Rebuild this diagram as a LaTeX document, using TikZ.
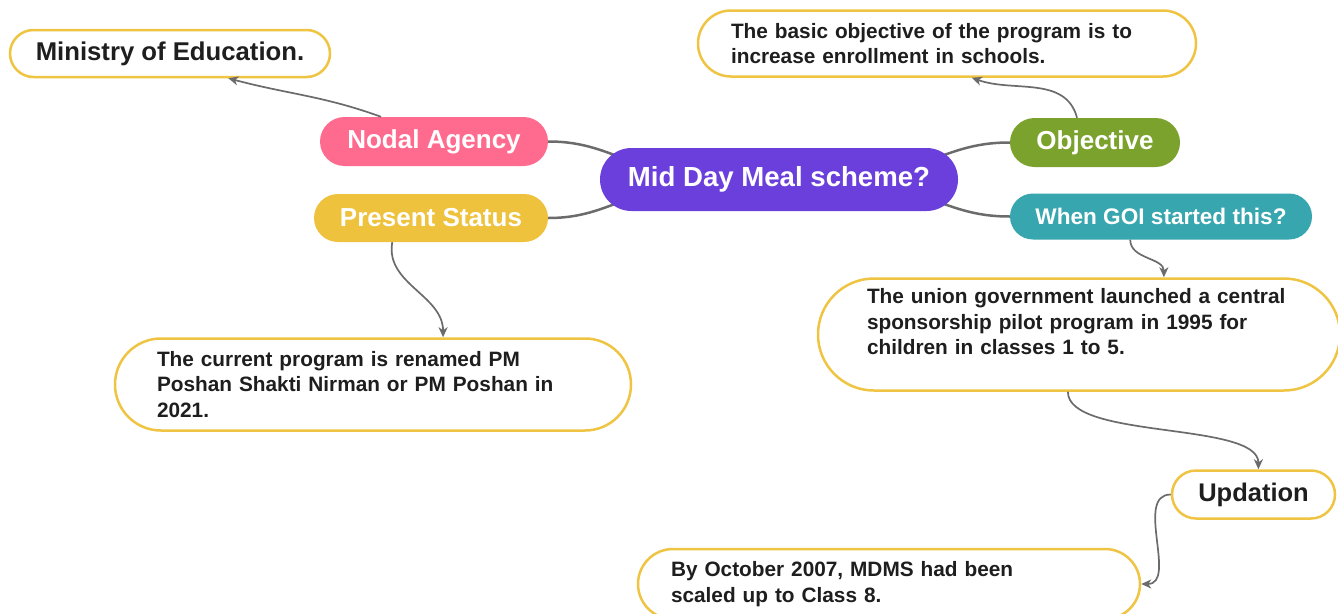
\documentclass[tikz,border=0pt]{standalone}
\usepackage{fontspec}
\setmainfont{Liberation Sans}
\usetikzlibrary{arrows.meta,backgrounds}

\definecolor{nodalpink}{HTML}{FF6B8E}
\definecolor{statusgold}{HTML}{EFC23D}
\definecolor{mealpurple}{HTML}{6B3FDB}
\definecolor{goalgreen}{HTML}{7CA22E}
\definecolor{startteal}{HTML}{37A6AF}
\definecolor{edgegold}{HTML}{F0C443}
\definecolor{wiregray}{HTML}{6B6B6B}
\definecolor{inkblack}{HTML}{1E1E1E}

\tikzset{
  pill/.style 2 args={rectangle, inner sep=0pt, minimum width=#1, minimum height=#2, rounded corners=#2/2},
  branch/.style={text=white, font=\fontsize{26}{30}\selectfont\bfseries},
  leaf/.style={draw=edgegold, line width=2.5pt, fill=white, text=inkblack},
  note/.style={leaf, align=left, font=\fontsize{20.8}{25.5}\selectfont\bfseries},
  stem/.style={wiregray, line width=2.5pt},
  link/.style={wiregray, line width=1.7pt, -{Stealth[length=10pt,width=9pt,inset=3pt]}}
}

\begin{document}
\begin{tikzpicture}[x=1pt,y=1pt]
  \useasboundingbox (0,0) rectangle (1338,-613);

  % 中心主题
  \node[pill={358pt}{63pt}, fill=mealpurple, text=white, font=\fontsize{27.6}{33}\selectfont\bfseries] (meal) at (779,-179.5) {Mid Day Meal scheme?};

  % 四个分支
  \node[pill={228pt}{49pt}, branch, fill=nodalpink] (nodal) at (434,-141.5) {Nodal Agency};
  \node[pill={234pt}{48pt}, branch, fill=statusgold] (status) at (431,-218) {Present Status};
  \node[pill={170pt}{49pt}, branch, fill=goalgreen] (goal) at (1095,-142.5) {Objective};
  \node[pill={302pt}{46pt}, branch, fill=startteal, font=\fontsize{22.6}{27}\selectfont\bfseries] (start) at (1161,-216.5) {When GOI started this?};

  % 叶子
  \node[pill={320pt}{47pt}, leaf, font=\fontsize{25.7}{30}\selectfont\bfseries] (ministry) at (170,-53.5) {Ministry of Education.};
  \node[pill={498pt}{66pt}, note, text width=432pt] (aim) at (947,-43.5) {The basic objective of the program is to\\increase enrollment in schools.};
  \node[pill={516pt}{92pt}, note, text width=432pt] (renamed) at (373,-384.5) {The current program is renamed PM\\Poshan Shakti Nirman or PM Poshan in\\2021.};
  \node[pill={522pt}{112pt}, note, text width=424pt] (pilot) at (1079,-334.5) {The union government launched a central\\sponsorship pilot program in 1995 for\\children in classes 1 to 5.\\\mbox{}};
  \node[pill={163pt}{48pt}, leaf, font=\fontsize{25.5}{30}\selectfont\bfseries] (update) at (1253.5,-494.5) {Updation};
  \node[pill={502pt}{70pt}, note, text width=436pt] (class8) at (889,-584) {By October 2007, MDMS had been\\scaled up to Class 8.};

  % 分支连线
  \begin{scope}[on background layer]
    \draw[stem] (nodal.east) to[out=0,in=160] ([xshift=40,yshift=15]meal.west);
    \draw[stem] (status.east) to[out=0,in=-160] ([xshift=40,yshift=-15]meal.west);
    \draw[stem] (goal.west) to[out=180,in=20] ([xshift=-40,yshift=15]meal.east);
    \draw[stem] (start.west) to[out=180,in=-20] ([xshift=-40,yshift=-15]meal.east);
  \end{scope}

  % 箭头
  \draw[link] (nodal.155) to[out=160,in=-15] (ministry.-23);
  \draw[link] (goal.126) to[out=105,in=-20] (aim.-54);
  \draw[link] (status.-148) to[out=-100,in=90] (renamed.34.5);
  \draw[link] (start.-143) to[out=-90,in=90] (pilot.34.7);
  \draw[link] (pilot.-101) to[out=-90,in=90,looseness=0.6] (update.79);
  \draw[link] (update.west) to[out=180,in=0] (class8.east);
\end{tikzpicture}
\end{document}
